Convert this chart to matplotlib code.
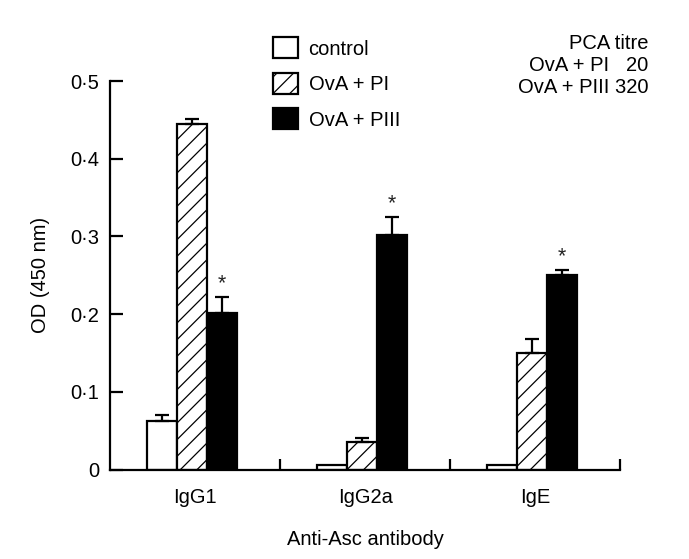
import matplotlib
matplotlib.use("Agg")
import matplotlib.pyplot as plt
import numpy as np
from matplotlib.patches import Patch

plt.rcParams['font.family'] = ['Liberation Sans', 'DejaVu Sans']
plt.rcParams['hatch.linewidth'] = 0.9

categories = ["IgG1", "IgG2a", "IgE"]
series = ["control", "OvA + PI", "OvA + PIII"]
control = [0.062, 0.006, 0.006]
control_err = [0.008, 0.0, 0.0]
ova_pi = [0.445, 0.035, 0.150]
ova_pi_err = [0.006, 0.006, 0.018]
ova_piii = [0.201, 0.302, 0.250]
ova_piii_err = [0.021, 0.023, 0.007]
significant = [True, True, True]
yticks = [0, 0.1, 0.2, 0.3, 0.4, 0.5]
ytick_labels = ["0", "0·1", "0·2", "0·3", "0·4", "0·5"]

FS = 14.5

fig = plt.figure(figsize=(6.89, 5.59), dpi=100)
ax = fig.add_axes([0.1597, 0.160, 0.7403, 0.695])

x = np.arange(len(categories))
w = 0.176
styles = [dict(facecolor="white", hatch=None),
          dict(facecolor="white", hatch="//"),
          dict(facecolor="black", hatch=None)]
vals = [control, ova_pi, ova_piii]
errs = [control_err, ova_pi_err, ova_piii_err]
for i, (v, e, st) in enumerate(zip(vals, errs, styles)):
    pos = x + (i - 1) * w - 0.02
    ax.bar(pos, v, width=w, color=st["facecolor"], edgecolor="black",
           linewidth=1.6, hatch=st["hatch"], zorder=2)
    for p, val, er in zip(pos, v, e):
        if er > 0:
            ax.errorbar(p, val, yerr=[[0], [er]], fmt="none", ecolor="black",
                        elinewidth=1.6, capsize=5, capthick=1.6, zorder=3)

for p, val, er, s in zip(x + w - 0.02, ova_piii, ova_piii_err, significant):
    if s:
        ax.text(p, val + er + 0.004, "*", ha="center", va="bottom", fontsize=FS + 1,
                color="#222222")

ax.set_xlim(-0.5, 2.5)
ax.set_ylim(0, 0.5)
ax.spines["top"].set_visible(False)
ax.spines["right"].set_visible(False)
for s in ["left", "bottom"]:
    ax.spines[s].set_linewidth(1.6)
ax.set_yticks(yticks)
ax.set_yticklabels(ytick_labels)
ax.set_xticks(x)
ax.set_xticklabels(categories)
ax.set_xticks([0.5, 1.5, 2.5], minor=True)
ax.tick_params(axis="x", which="major", length=0, pad=13, labelsize=FS)
ax.tick_params(axis="x", which="minor", direction="in", length=8, width=1.6)
ax.tick_params(axis="y", direction="in", length=9, width=1.6, labelsize=FS, pad=8)
ax.set_ylabel("OD (450 nm)", fontsize=FS, labelpad=14)
ax.set_xlabel("Anti-Asc antibody", fontsize=FS, labelpad=17)

handles = [Patch(facecolor="white", edgecolor="black", linewidth=1.6),
           Patch(facecolor="white", edgecolor="black", linewidth=1.6, hatch="//"),
           Patch(facecolor="black", edgecolor="black", linewidth=1.6)]
fig.legend(handles, series, loc="upper left", bbox_to_anchor=(0.385, 0.948),
           frameon=False, fontsize=FS, handlelength=1.25, handleheight=1.25,
           handletextpad=0.5, labelspacing=0.7, borderaxespad=0)

fig.text(0.941, 0.94, "PCA titre\nOvA + PI   20\nOvA + PIII 320", ha="right",
         va="top", fontsize=FS, linespacing=1.22)

fig.savefig("out.png", dpi=100)
